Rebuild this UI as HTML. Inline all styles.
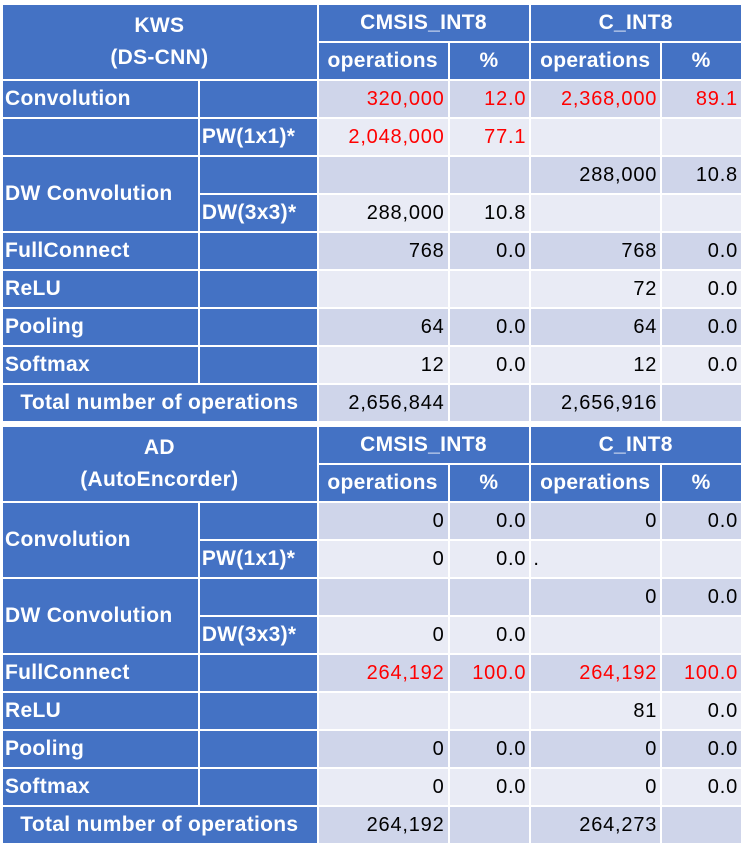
<!DOCTYPE html>
<html><head><meta charset="utf-8"><style>
html,body{margin:0;padding:0;background:#fff;width:743px;height:855px;overflow:hidden}
table{position:absolute;left:1px;border-collapse:collapse;table-layout:fixed;font-family:"Liberation Sans",sans-serif;font-size:20px;letter-spacing:0.8px}
td{border:2px solid #fff;padding:0 3px 0 2px;height:36px;box-sizing:border-box;white-space:nowrap;overflow:visible;text-align:right;color:#000}
tr{height:38px}
.h{background:#4472C4;color:#fff;font-weight:bold;text-align:center;letter-spacing:0.3px;font-size:21px}
.l{background:#4472C4;color:#fff;font-weight:bold;text-align:left;letter-spacing:0.3px;font-size:21px}
.d{background:#CFD5EA}.w{background:#E9EBF5}
.r{color:#f00}
</style></head><body>
<table style="top:3px">
<colgroup><col style="width:197px"><col style="width:119px"><col style="width:131px"><col style="width:82px"><col style="width:131px"><col style="width:81px"></colgroup>
<tr><td class="h" colspan="2" rowspan="2" style="line-height:32px">KWS<br>(DS-CNN)</td><td class="h" colspan="2">CMSIS_INT8</td><td class="h" colspan="2">C_INT8</td></tr>
<tr><td class="h">operations</td><td class="h">%</td><td class="h">operations</td><td class="h">%</td></tr>
<tr><td class="l">Convolution</td><td class="l"></td><td class="d r">320,000</td><td class="d r">12.0</td><td class="d r">2,368,000</td><td class="d r">89.1</td></tr>
<tr><td class="l"></td><td class="l">PW(1x1)*</td><td class="w r">2,048,000</td><td class="w r">77.1</td><td class="w"></td><td class="w"></td></tr>
<tr><td class="l" rowspan="2">DW Convolution</td><td class="l"></td><td class="d"></td><td class="d"></td><td class="d">288,000</td><td class="d">10.8</td></tr>
<tr><td class="l">DW(3x3)*</td><td class="w">288,000</td><td class="w">10.8</td><td class="w"></td><td class="w"></td></tr>
<tr><td class="l">FullConnect</td><td class="l"></td><td class="d">768</td><td class="d">0.0</td><td class="d">768</td><td class="d">0.0</td></tr>
<tr><td class="l">ReLU</td><td class="l"></td><td class="w"></td><td class="w"></td><td class="w">72</td><td class="w">0.0</td></tr>
<tr><td class="l">Pooling</td><td class="l"></td><td class="d">64</td><td class="d">0.0</td><td class="d">64</td><td class="d">0.0</td></tr>
<tr><td class="l">Softmax</td><td class="l"></td><td class="w">12</td><td class="w">0.0</td><td class="w">12</td><td class="w">0.0</td></tr>
<tr><td class="h" colspan="2">Total number of operations</td><td class="d">2,656,844</td><td class="d"></td><td class="d">2,656,916</td><td class="d"></td></tr>
</table>
<table style="top:425px">
<colgroup><col style="width:197px"><col style="width:119px"><col style="width:131px"><col style="width:82px"><col style="width:131px"><col style="width:81px"></colgroup>
<tr><td class="h" colspan="2" rowspan="2" style="line-height:32px">AD<br>(AutoEncorder)</td><td class="h" colspan="2">CMSIS_INT8</td><td class="h" colspan="2">C_INT8</td></tr>
<tr><td class="h">operations</td><td class="h">%</td><td class="h">operations</td><td class="h">%</td></tr>
<tr><td class="l" rowspan="2">Convolution</td><td class="l"></td><td class="d">0</td><td class="d">0.0</td><td class="d">0</td><td class="d">0.0</td></tr>
<tr><td class="l">PW(1x1)*</td><td class="w">0</td><td class="w">0.0</td><td class="w" style="text-align:left">.</td><td class="w"></td></tr>
<tr><td class="l" rowspan="2">DW Convolution</td><td class="l"></td><td class="d"></td><td class="d"></td><td class="d">0</td><td class="d">0.0</td></tr>
<tr><td class="l">DW(3x3)*</td><td class="w">0</td><td class="w">0.0</td><td class="w"></td><td class="w"></td></tr>
<tr><td class="l">FullConnect</td><td class="l"></td><td class="d r">264,192</td><td class="d r">100.0</td><td class="d r">264,192</td><td class="d r">100.0</td></tr>
<tr><td class="l">ReLU</td><td class="l"></td><td class="w"></td><td class="w"></td><td class="w">81</td><td class="w">0.0</td></tr>
<tr><td class="l">Pooling</td><td class="l"></td><td class="d">0</td><td class="d">0.0</td><td class="d">0</td><td class="d">0.0</td></tr>
<tr><td class="l">Softmax</td><td class="l"></td><td class="w">0</td><td class="w">0.0</td><td class="w">0</td><td class="w">0.0</td></tr>
<tr><td class="h" colspan="2">Total number of operations</td><td class="d">264,192</td><td class="d"></td><td class="d">264,273</td><td class="d"></td></tr>
</table>
</body></html>
